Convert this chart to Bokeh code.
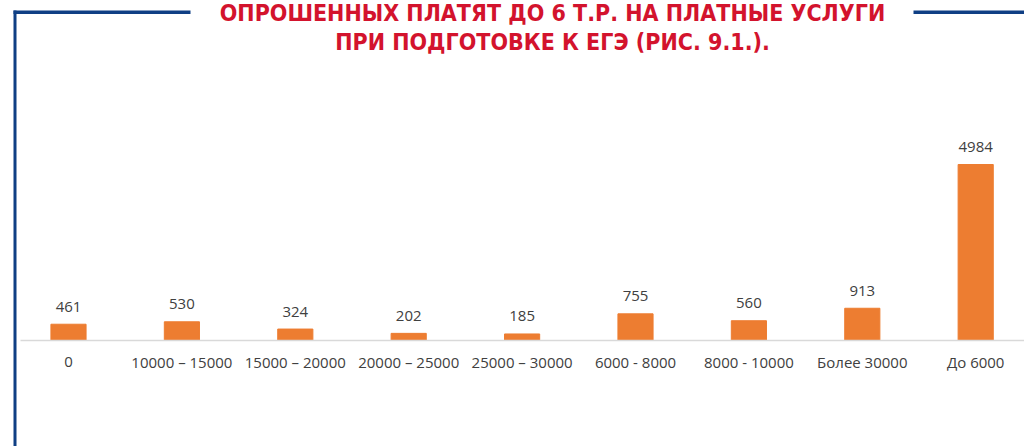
from bokeh.plotting import figure
from bokeh.models import Range1d, Label, BoxAnnotation, ColumnDataSource
from bokeh.core.properties import value
from bokeh.embed import file_html
from bokeh.resources import INLINE

categories = ["0", "10000 – 15000", "15000 – 20000", "20000 – 25000", "25000 – 30000",
              "6000 - 8000", "8000 - 10000", "Более 30000", "До 6000"]
values = [461, 530, 324, 202, 185, 755, 560, 913, 4984]
title_lines = ["ОПРОШЕННЫХ ПЛАТЯТ ДО 6 Т.Р. НА ПЛАТНЫЕ УСЛУГИ",
               "ПРИ ПОДГОТОВКЕ К ЕГЭ (РИС. 9.1.)."]

# layout (pixels)
W, H = 1024, 446
PX_PER_CAT = 113.4
FIRST_CAT_PX = 68
BASE_PX = 340
PX_PER_UNIT = 176 / 4984.0

x_start = -FIRST_CAT_PX / PX_PER_CAT
x_end = x_start + W / PX_PER_CAT
y_end = BASE_PX / PX_PER_UNIT
y_start = -(H - BASE_PX) / PX_PER_UNIT

def px2x(px):
    return x_start + px / PX_PER_CAT

def py2y(py):
    return y_end - py / PX_PER_UNIT

idx = list(range(len(categories)))
src = ColumnDataSource(dict(x=idx, top=values, lab=[str(v) for v in values],
                            cat=categories, zero=[0] * len(idx)))

p = figure(width=W, height=H, output_backend="svg", toolbar_location=None,
           x_range=Range1d(x_start, x_end), y_range=Range1d(y_start, y_end),
           x_axis_location=None, y_axis_location=None,
           min_border=0, min_border_left=0, min_border_right=0,
           min_border_top=0, min_border_bottom=0)
p.outline_line_color = None
p.xgrid.visible = False
p.ygrid.visible = False
p.background_fill_color = "white"
p.border_fill_color = "white"

# baseline
p.add_layout(BoxAnnotation(left=px2x(20), right=None, top=py2y(339.3), bottom=py2y(340.8),
                           fill_color="#d9d9d9", fill_alpha=1, line_color=None))

p.vbar(x="x", top="top", width=0.31, source=src, fill_color="#ed7d31", line_color="#ed7d31")
p.text(x="x", y="top", text="lab", source=src, text_align="center", text_baseline="alphabetic",
       y_offset=-17.5, text_font_size="15px", text_color="#404040", text_font=value("Open Sans"))
p.text(x="x", y="zero", text="cat", source=src, text_align="center", text_baseline="alphabetic",
       y_offset=21.3, text_font_size="15px", text_color="#404040", text_font=value("Open Sans"))

blue = "#0f3f84"
for l, r, t, b in [(13, 16, 10, None), (13, 190, 10, 13.5), (913, None, 10, 13.5)]:
    p.add_layout(BoxAnnotation(left=px2x(l), right=None if r is None else px2x(r),
                               top=py2y(t), bottom=None if b is None else py2y(b),
                               fill_color=blue, fill_alpha=1, line_color=None))

for txt, yy in zip(title_lines, [12.6, 41.6]):
    p.add_layout(Label(x=px2x(552), y=py2y(yy), text=txt,
                       text_align="center", text_baseline="alphabetic",
                       text_font="'DejaVu Sans Condensed', Roboto", text_font_style="bold",
                       text_font_size="23px", text_color="#d3132d"))

open("out.html", "w").write(file_html(p, INLINE))
